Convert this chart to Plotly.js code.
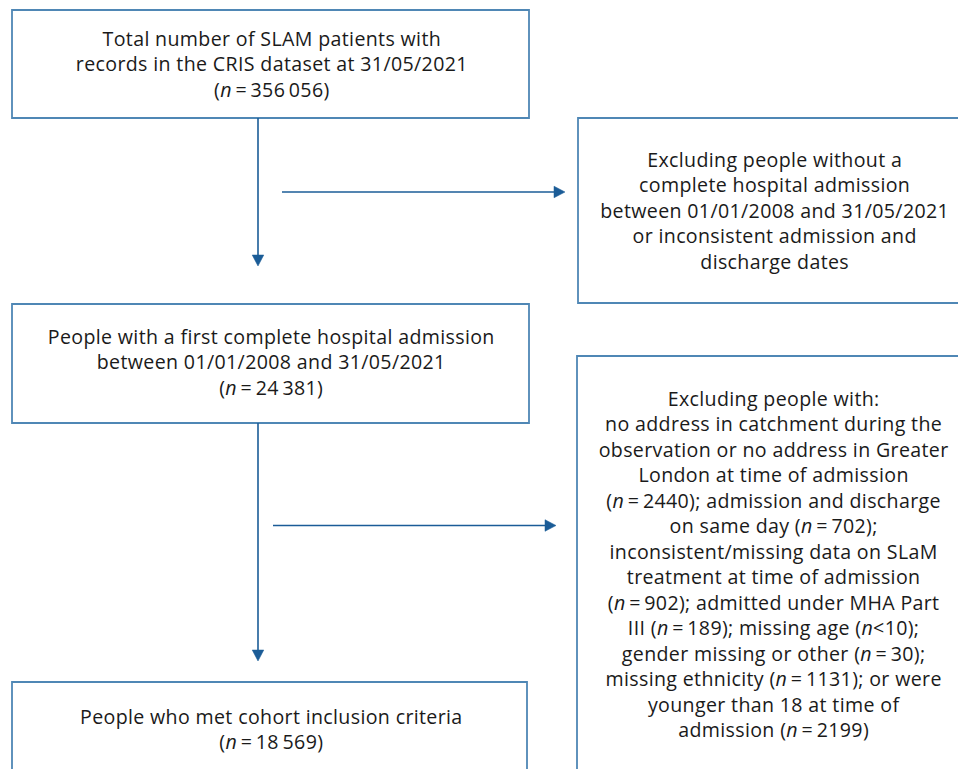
<!DOCTYPE html>
<html>
<head>
<meta charset="utf-8">
<script src="https://cdn.plot.ly/plotly-3.0.1.min.js"></script>
<style>
  html, body { margin: 0; padding: 0; background: #ffffff; }
  #chart { width: 958px; height: 769px; }
  #chart .annotation-text { letter-spacing: 0.35px; }
</style>
</head>
<body>
<div id="chart"></div>
<script>
// ---------------- DATA ----------------
const nodeNames = [
  "Total number of SLAM patients with<br>records in the CRIS dataset at 31/05/2021",
  "People with a first complete hospital admission<br>between 01/01/2008 and 31/05/2021",
  "People who met cohort inclusion criteria"
];
const nodeCounts = ["356\u2009056", "24\u2009381", "18\u2009569"];

const exclusion1Lines = [
  "Excluding people without a",
  "complete hospital admission",
  "between 01/01/2008 and 31/05/2021",
  "or inconsistent admission and",
  "discharge dates"
];

const exclusion2Lines = [
  "Excluding people with:",
  "no address in catchment during the",
  "observation or no address in Greater",
  "London at time of admission",
  "(<i>n</i>\u2009=\u20092440); admission and discharge",
  "on same day (<i>n</i>\u2009=\u2009702);",
  "inconsistent/missing data on SLaM",
  "treatment at time of admission",
  "(<i>n</i>\u2009=\u2009902); admitted under MHA Part",
  "III (<i>n</i>\u2009=\u2009189); missing age (<i>n</i>&lt;10);",
  "gender missing or other (<i>n</i>\u2009=\u200930);",
  "missing ethnicity (<i>n</i>\u2009=\u20091131); or were",
  "younger than 18 at time of",
  "admission (<i>n</i>\u2009=\u20092199)"
];

// ---------------- LAYOUT GEOMETRY (pixel-like axis units) ----------------
const W = 958, H = 769;
const mainBoxes = [
  {x0: 12, y0: 10,  x1: 529, y1: 118, tx: 272, ty: 64},
  {x0: 12, y0: 304, x1: 529, y1: 423, tx: 271, ty: 362},
  {x0: 12, y0: 682, x1: 527, y1: 800, tx: 271, ty: 729}
];
const sideBoxes = [
  {x0: 578, y0: 118, x1: 968, y1: 303, tx: 774, ty: 210},
  {x0: 577, y0: 356, x1: 968, y1: 800, tx: 773, ty: 564}
];
const vArrows = [
  {x: 258, y0: 118, y1: 266},
  {x: 258, y0: 423, y1: 661}
];
const hArrows = [
  {y: 192, x0: 282, x1: 565},
  {y: 525.5, x0: 273, x1: 556}
];

const boxColor = '#4f87b5';
const arrowColor = '#1b5c97';
const textColor = '#1a1a1a';
const fontFamily = '"Open Sans", "Noto Sans", sans-serif';
const fontSize = 19.6;
const headLen = 11, headHalf = 5.8;

const shapes = [];
const annotations = [];

mainBoxes.concat(sideBoxes).forEach(b => {
  shapes.push({type: 'rect', xref: 'x', yref: 'y', x0: b.x0, x1: b.x1, y0: b.y0, y1: b.y1,
    line: {color: boxColor, width: 1.8}, fillcolor: 'rgba(0,0,0,0)', layer: 'above'});
});

vArrows.forEach(a => {
  shapes.push({type: 'line', xref: 'x', yref: 'y', x0: a.x, x1: a.x, y0: a.y0, y1: a.y1 - headLen + 1,
    line: {color: arrowColor, width: 1.6}});
  shapes.push({type: 'path', xref: 'x', yref: 'y',
    path: `M ${a.x - headHalf} ${a.y1 - headLen} L ${a.x + headHalf} ${a.y1 - headLen} L ${a.x} ${a.y1} Z`,
    fillcolor: arrowColor, line: {color: arrowColor, width: 0.5}});
});

hArrows.forEach(a => {
  shapes.push({type: 'line', xref: 'x', yref: 'y', x0: a.x0, x1: a.x1 - headLen + 1, y0: a.y, y1: a.y,
    line: {color: arrowColor, width: 1.6}});
  shapes.push({type: 'path', xref: 'x', yref: 'y',
    path: `M ${a.x1 - headLen} ${a.y - headHalf} L ${a.x1 - headLen} ${a.y + headHalf} L ${a.x1} ${a.y} Z`,
    fillcolor: arrowColor, line: {color: arrowColor, width: 0.5}});
});

nodeNames.forEach((name, i) => {
  const b = mainBoxes[i];
  annotations.push({xref: 'x', yref: 'y', x: b.tx, y: b.ty, showarrow: false,
    xanchor: 'center', yanchor: 'middle', align: 'center',
    text: name + '<br>(<i>n</i>\u2009=\u2009' + nodeCounts[i] + ')',
    font: {family: fontFamily, size: fontSize, color: textColor}});
});

[exclusion1Lines, exclusion2Lines].forEach((lines, i) => {
  const b = sideBoxes[i];
  annotations.push({xref: 'x', yref: 'y', x: b.tx, y: b.ty, showarrow: false,
    xanchor: 'center', yanchor: 'middle', align: 'center',
    text: lines.join('<br>'),
    font: {family: fontFamily, size: fontSize, color: textColor}});
});

const layout = {
  width: W, height: H,
  margin: {l: 0, r: 0, t: 0, b: 0, pad: 0},
  paper_bgcolor: '#ffffff', plot_bgcolor: '#ffffff',
  showlegend: false,
  xaxis: {range: [0, W], visible: false, fixedrange: true},
  yaxis: {range: [H, 0], visible: false, fixedrange: true},
  shapes: shapes,
  annotations: annotations
};

Plotly.newPlot('chart', [{x: [], y: [], type: 'scatter', mode: 'markers', hoverinfo: 'skip'}], layout,
  {staticPlot: true, displayModeBar: false});
</script>
</body>
</html>
